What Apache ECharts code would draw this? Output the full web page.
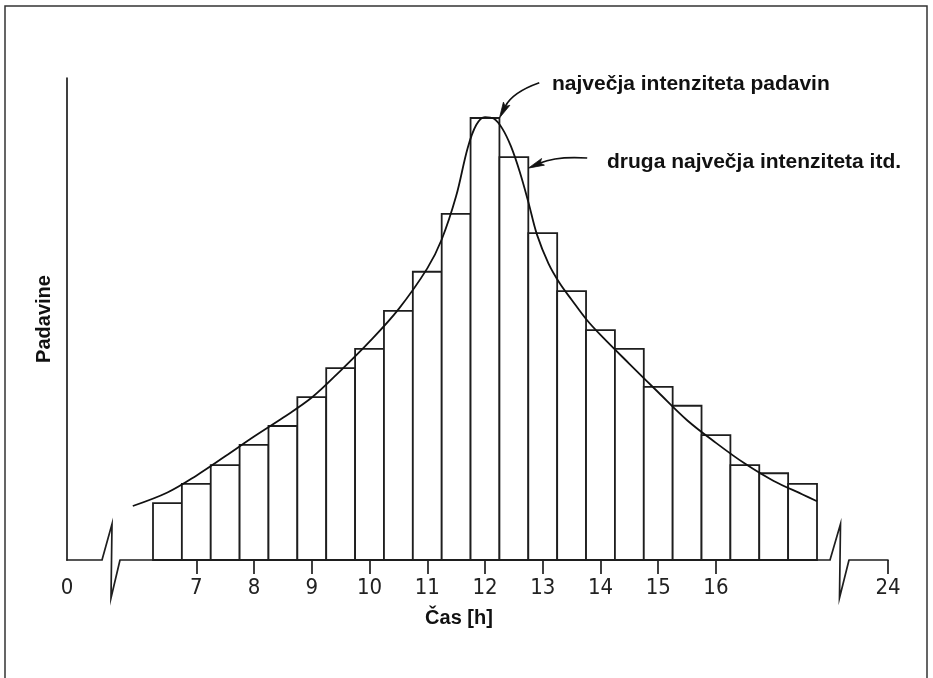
<!DOCTYPE html>
<html>
<head>
<meta charset="utf-8">
<title>Padavine</title>
<script src="https://cdn.jsdelivr.net/npm/echarts@6/dist/echarts.min.js"></script>
<style>
    html, body {margin: 0; padding: 0; background: #fff;}
    #chart {width: 933px; height: 678px;}
</style>
</head>
<body>
<div id="chart"></div>
<script>
// stolpci - sredina polurnega intervala [h]
var hours = [6.5, 7, 7.5, 8, 8.5, 9, 9.5, 10, 10.5, 11, 11.5, 12,
    12.5, 13, 13.5, 14, 14.5, 15, 15.5, 16, 16.5, 17, 17.5];
// padavine (relativno, 100 = vrh osi)
var rain = [11.8, 15.8, 19.7, 23.9, 27.8, 33.8, 39.8, 43.8, 51.7, 59.8, 71.8, 91.7,
    83.6, 67.8, 55.8, 47.7, 43.8, 35.9, 32.0, 25.9, 19.7, 18.0, 15.8];
// zglajena krivulja
var curveHours = [5.9, 6.5, 7.0, 7.5, 8.0, 8.5, 9.0, 9.5, 10.0, 10.5, 11.0, 11.25,
    11.5, 11.7, 11.85, 12.0, 12.15, 12.3, 12.45, 12.6, 12.75, 12.9, 13.1, 13.3,
    13.5, 13.75, 14.0, 14.5, 15.0, 15.5, 16.0, 16.5, 17.0, 17.5, 17.75];
var curveRain = [11.2, 14.0, 17.5, 21.5, 25.6, 29.5, 33.7, 39.3, 45.3, 52.0, 60.5, 66.5,
    75.5, 85.5, 90.3, 91.9, 91.6, 89.5, 85.8, 80.6, 74.3, 67.5, 61.5, 57.3,
    54.0, 50.0, 46.7, 40.7, 34.8, 29.0, 24.3, 20.0, 16.4, 13.6, 12.2];
// oznake na osi x
var mainTicks = [7, 8, 9, 10, 11, 12, 13, 14, 15, 16];
var leftTicks = [0];
var rightTicks = [24];
// puscice: [od h, od vrednost, do h, do vrednost, ukrivljenost]
var arrows = [
    [12.94, 99.0, 12.25, 91.7, -0.2],
    [13.77, 83.4, 12.75, 81.3, -0.12]
];

$init();

function $init() {
    var LINE = '#1e1e1e';
    var NUM_FONT = '"Liberation Sans Narrow", "DejaVu Sans Condensed", "Liberation Sans", sans-serif';
    var BOLD_FONT = '"Liberation Sans", Arial, sans-serif';
    var TOP = 78, BASE = 560;
    //tri mreze: 0 | 6-18 | 24
    var grids = [
        {left: 67, top: TOP, width: 35, height: BASE - TOP},
        {left: 120, top: TOP, width: 710, height: BASE - TOP},
        {left: 849, top: TOP, width: 39, height: BASE - TOP}
    ];
    var ranges = [[0, 0.606], [5.6785, 17.975], [23.325, 24]];
    var tickSets = [leftTicks, mainTicks, rightTicks];
    var span = hours[1] - hours[0];

    var xAxes = grids.map(function (g, i) {
        return {
            type: 'value',
            gridIndex: i,
            min: ranges[i][0],
            max: ranges[i][1],
            splitLine: {show: false},
            axisLine: {show: true, onZero: false, lineStyle: {color: LINE, width: 1.7}},
            axisTick: {show: i > 0, customValues: tickSets[i], length: 14, inside: false,
                lineStyle: {color: LINE, width: 1.7}},
            axisLabel: {customValues: tickSets[i], margin: 17, color: '#222',
                fontFamily: NUM_FONT, fontSize: 22}
        };
    });
    xAxes[1].name = 'Čas [h]';
    xAxes[1].nameLocation = 'middle';
    xAxes[1].nameGap = 48;
    xAxes[1].nameTextStyle = {fontFamily: BOLD_FONT, fontWeight: 'bold', fontSize: 20,
        color: '#111', padding: [0, 32, 0, 0]};

    var yAxes = grids.map(function (g, i) {
        return {
            type: 'value',
            gridIndex: i,
            min: 0,
            max: 100,
            show: i === 0,
            splitLine: {show: false},
            axisTick: {show: false},
            axisLabel: {show: false},
            axisLine: {show: i === 0, lineStyle: {color: LINE, width: 1.7}}
        };
    });
    yAxes[0].name = 'Padavine';
    yAxes[0].nameLocation = 'middle';
    yAxes[0].nameRotate = 90;
    yAxes[0].nameGap = 13;
    yAxes[0].nameTextStyle = {fontFamily: BOLD_FONT, fontWeight: 'bold', fontSize: 20, color: '#111'};

    //prelom osi (cik-cak)
    function zigzag(x0, x1) {
        var xm = (x0 + x1) / 2;
        return {
            type: 'polyline',
            shape: {points: [[x0, BASE], [xm + 1, BASE - 36], [xm, BASE + 38], [x1, BASE]]},
            style: {fill: 'none', stroke: LINE, lineWidth: 1.7}
        };
    }

    //ukrivljena puscica
    function renderArrow(params, api) {
        var p0 = api.coord([api.value(0), api.value(1)]);
        var p1 = api.coord([api.value(2), api.value(3)]);
        var c = api.value(4);
        var cp = [(p0[0] + p1[0]) / 2 - (p0[1] - p1[1]) * c, (p0[1] + p1[1]) / 2 - (p1[0] - p0[0]) * c];
        var dx = p1[0] - cp[0], dy = p1[1] - cp[1];
        var len = Math.sqrt(dx * dx + dy * dy);
        var ux = dx / len, uy = dy / len;
        var L = 16, W = 3.6;
        var base = [p1[0] - ux * L, p1[1] - uy * L];
        var notch = [p1[0] - ux * L * 0.8, p1[1] - uy * L * 0.8];
        return {
            type: 'group',
            children: [
                {
                    type: 'bezierCurve',
                    shape: {x1: p0[0], y1: p0[1], x2: notch[0], y2: notch[1], cpx1: cp[0], cpy1: cp[1]},
                    style: {fill: null, stroke: '#111', lineWidth: 1.7}
                },
                {
                    type: 'polygon',
                    shape: {points: [p1, [base[0] - uy * W, base[1] + ux * W], notch,
                        [base[0] + uy * W, base[1] - ux * W]]},
                    style: {fill: '#111', stroke: '#111', lineWidth: 0.8}
                }
            ]
        };
    }

    var option = {
        backgroundColor: '#fff',
        animation: false,
        grid: grids,
        xAxis: xAxes,
        yAxis: yAxes,
        graphic: [
            {type: 'rect', shape: {x: 5, y: 6, width: 922, height: 700},
                style: {fill: 'none', stroke: '#333', lineWidth: 1.5}},
            zigzag(grids[0].left + grids[0].width, grids[1].left),
            zigzag(grids[1].left + grids[1].width, grids[2].left),
            {type: 'text', x: 552, y: 84,
                style: {text: 'največja intenziteta padavin', fill: '#111', verticalAlign: 'middle',
                    font: 'bold 21px ' + BOLD_FONT}},
            {type: 'text', x: 607, y: 162,
                style: {text: 'druga največja intenziteta itd.', fill: '#111', verticalAlign: 'middle',
                    font: 'bold 21px ' + BOLD_FONT}}
        ],
        series: [
            {
                name: 'stolpci',
                type: 'custom',
                xAxisIndex: 1,
                yAxisIndex: 1,
                z: 2,
                data: hours.map(function (h, i) {
                    return [h, rain[i]];
                }),
                renderItem: function (params, api) {
                    var h = api.value(0);
                    var p0 = api.coord([h - span / 2, api.value(1)]);
                    var p1 = api.coord([h + span / 2, 0]);
                    return {
                        type: 'rect',
                        shape: {x: p0[0], y: p0[1], width: p1[0] - p0[0], height: p1[1] - p0[1]},
                        style: {fill: '#fff', stroke: LINE, lineWidth: 1.8}
                    };
                }
            },
            {
                name: 'krivulja',
                type: 'line',
                xAxisIndex: 1,
                yAxisIndex: 1,
                z: 3,
                smooth: 0.35,
                showSymbol: false,
                lineStyle: {color: '#111', width: 1.8},
                data: curveHours.map(function (h, i) {
                    return [h, curveRain[i]];
                })
            },
            {
                name: 'puscice',
                type: 'custom',
                xAxisIndex: 1,
                yAxisIndex: 1,
                z: 4,
                clip: false,
                data: arrows,
                renderItem: renderArrow
            }
        ]
    };

    var chart = echarts.init(document.getElementById('chart'));
    chart.setOption(option);
}
</script>
</body>
</html>
